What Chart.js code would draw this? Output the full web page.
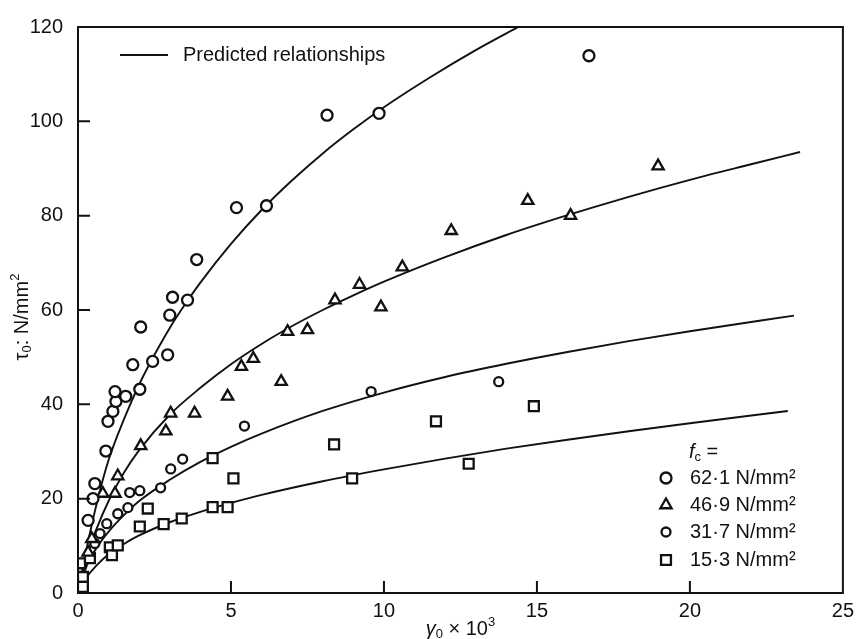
<!DOCTYPE html>
<html lang="en">
<head>
  <meta charset="utf-8" />
  <title>Shear stress vs strain, predicted relationships</title>
  <script src="https://cdn.jsdelivr.net/npm/chart.js@4.4.1/dist/chart.umd.min.js"></script>
  <style>
    html, body { margin: 0; padding: 0; background: #fff; }
    canvas { display: block; }
  </style>
</head>
<body>
  <canvas id="c" width="860" height="639"></canvas>
  <script>
    // measured points, one pair of arrays per concrete strength (x = strain x 10^3, y = N/mm2)
    const fc621X = [0.33, 0.49, 0.55, 0.91, 0.98, 1.14, 1.24, 1.21, 1.56, 2.02, 1.79, 2.44, 2.93, 2.05, 3.0, 3.09, 3.58, 3.88, 5.18, 6.16, 8.14, 9.84, 16.7];
    const fc621Y = [15.4, 20.0, 23.2, 30.1, 36.4, 38.5, 40.6, 42.7, 41.7, 43.2, 48.4, 49.1, 50.5, 56.4, 58.9, 62.7, 62.1, 70.7, 81.7, 82.1, 101.3, 101.7, 113.9];

    const fc469X = [0.33, 0.45, 0.81, 1.21, 1.30, 2.05, 2.87, 3.03, 3.81, 4.89, 5.34, 5.73, 6.64, 6.85, 7.5, 8.4, 9.2, 9.9, 10.6, 12.2, 14.7, 16.1, 18.96];
    const fc469Y = [8.6, 11.5, 21.1, 21.1, 24.8, 31.2, 34.3, 38.1, 38.1, 41.7, 48.0, 49.7, 44.8, 55.4, 55.8, 62.1, 65.4, 60.6, 69.1, 76.8, 83.2, 80.0, 90.5];

    const fc317X = [0.55, 0.72, 0.94, 1.30, 1.63, 1.69, 2.02, 2.70, 3.03, 3.42, 5.44, 9.58, 13.75];
    const fc317Y = [10.5, 12.6, 14.7, 16.8, 18.1, 21.3, 21.7, 22.3, 26.3, 28.4, 35.4, 42.7, 44.8];

    const fc153X = [0.07, 0.16, 0.16, 0.39, 1.04, 1.11, 1.30, 2.02, 2.28, 2.8, 3.39, 4.4, 4.4, 4.89, 5.08, 8.37, 8.96, 11.7, 12.77, 14.9];
    const fc153Y = [6.3, 3.4, 1.3, 7.4, 9.7, 8.0, 10.1, 14.1, 17.9, 14.6, 15.8, 18.2, 28.6, 18.2, 24.3, 31.5, 24.3, 36.4, 27.4, 39.6];

    // predicted curves
    const curve621X = [0, 0.3, 0.65, 1.0, 1.5, 2.0, 2.5, 3.0, 3.5, 4.0, 5.0, 6.0, 7.0, 8.0, 9.0, 10.0, 11.5, 13.0, 14.5];
    const curve621Y = [0, 10, 20, 28.2, 36.8, 44.2, 50.5, 56.2, 61.2, 65.8, 74, 81.2, 87.5, 93.2, 98.3, 103, 109.3, 115.1, 120.4];

    const curve469X = [0, 0.3, 0.6, 1.0, 1.5, 2, 3, 4, 5, 6, 7, 8, 9, 10, 12, 14, 16, 18, 20, 22, 23.6];
    const curve469Y = [0, 8, 13.5, 19.5, 25.5, 30.3, 37.8, 43.5, 48.5, 52.8, 56.6, 60, 63.1, 66, 71.2, 75.9, 80.1, 84.0, 87.6, 90.9, 93.5];

    const curve317X = [0, 0.3, 0.6, 1.0, 1.5, 2, 3, 4, 5, 6, 8, 10, 12, 14, 16, 18, 20, 23.4];
    const curve317Y = [0, 6, 9.5, 13, 16.5, 19.5, 24, 27.8, 31, 33.8, 38.6, 42.5, 45.8, 48.6, 51.1, 53.4, 55.5, 58.8];

    const curve153X = [0, 0.3, 0.6, 1.0, 1.5, 2, 3, 4, 5, 6, 8, 10, 12, 14, 16, 18, 20, 23.2];
    const curve153Y = [0, 3.5, 5.8, 8.2, 10.4, 12.2, 15, 17.2, 19.1, 20.8, 23.7, 26.2, 28.5, 30.6, 32.5, 34.3, 36, 38.6];

    const xTicks = [0, 5, 10, 15, 20, 25];
    const yTicks = [0, 20, 40, 60, 80, 100, 120];
    const legendLabels = ['62·1 N/mm²', '46·9 N/mm²', '31·7 N/mm²', '15·3 N/mm²'];

    const INK = '#111';
    const FONT = '"Liberation Sans", Arial, sans-serif';

    const pts = (xs, ys) => xs.map((x, i) => ({ x, y: ys[i] }));

    const markers = [
      { pointStyle: 'circle', radius: 5.5 },
      { pointStyle: 'triangle', radius: 6.5 },
      { pointStyle: 'circle', radius: 4.5 },
      { pointStyle: 'rect', radius: 7 },
    ];

    function curve(xs, ys) {
      return {
        data: pts(xs, ys),
        showLine: true,
        borderColor: INK,
        borderWidth: 1.9,
        pointRadius: 0,
        cubicInterpolationMode: 'monotone',
        order: 1,
      };
    }

    function marks(xs, ys, m) {
      return {
        data: pts(xs, ys),
        showLine: false,
        pointStyle: m.pointStyle,
        pointRadius: m.radius,
        pointBorderWidth: 2.3,
        pointBorderColor: INK,
        pointBackgroundColor: '#fff',
        order: 0,
      };
    }

    // small text runs: [text, fontSize, dy, italic]
    function drawRuns(ctx, runs, x, y) {
      let cx = x;
      for (const [t, size, dy, italic] of runs) {
        ctx.font = `${italic ? 'italic ' : ''}${size}px ${FONT}`;
        ctx.fillText(t, cx, y + dy);
        cx += ctx.measureText(t).width;
      }
      return cx - x;
    }
    function runsWidth(ctx, runs) {
      let w = 0;
      for (const [t, size, , italic] of runs) {
        ctx.font = `${italic ? 'italic ' : ''}${size}px ${FONT}`;
        w += ctx.measureText(t).width;
      }
      return w;
    }

    const decor = {
      id: 'decor',
      afterDatasetsDraw(chart) {
        const { ctx, chartArea: a, scales: { x, y } } = chart;
        ctx.save();
        ctx.strokeStyle = INK;
        ctx.fillStyle = INK;
        ctx.lineWidth = 2;
        ctx.strokeRect(a.left, a.top, a.right - a.left, a.bottom - a.top);

        // inward tick marks
        ctx.beginPath();
        for (const v of yTicks.slice(1, -1)) {
          const py = y.getPixelForValue(v);
          ctx.moveTo(a.left, py); ctx.lineTo(a.left + 12, py);
        }
        for (const v of xTicks.slice(1, -1)) {
          const px = x.getPixelForValue(v);
          ctx.moveTo(px, a.bottom); ctx.lineTo(px, a.bottom - 12);
        }
        ctx.stroke();

        ctx.textBaseline = 'middle';
        ctx.textAlign = 'left';

        // x title
        const xRuns = [['γ', 20, 0, true], ['0', 13, 5, false], [' × 10', 20, 0, false], ['3', 13, -7, false]];
        const xw = runsWidth(ctx, xRuns);
        drawRuns(ctx, xRuns, (a.left + a.right) / 2 - xw / 2, 629);

        // y title, rotated
        const yRuns = [['τ', 20, 0, false], ['0', 13, 5, false], [': N/mm', 20, 0, false], ['2', 13, -7, false]];
        const yw = runsWidth(ctx, yRuns);
        ctx.save();
        ctx.translate(22, 317);
        ctx.rotate(-Math.PI / 2);
        drawRuns(ctx, yRuns, -yw / 2, 0);
        ctx.restore();

        // top-left key
        ctx.beginPath();
        ctx.moveTo(120, 55); ctx.lineTo(168, 55);
        ctx.stroke();
        ctx.font = `20px ${FONT}`;
        ctx.fillText('Predicted relationships', 183, 55);

        // bottom-right key
        drawRuns(ctx, [['f', 20, 0, true], ['c', 13, 5, false], [' =', 20, 0, false]], 689, 452);
        const rowY = [478, 505, 532, 560];
        legendLabels.forEach((label, i) => {
          ctx.fillStyle = '#fff';
          ctx.lineWidth = 2.3;
          Chart.helpers.drawPoint(ctx, { pointStyle: markers[i].pointStyle, radius: markers[i].radius, borderWidth: 2.3, rotation: 0 }, 666, rowY[i]);
          ctx.fillStyle = INK;
          ctx.font = `20px ${FONT}`;
          ctx.fillText(label, 690, rowY[i]);
        });
        ctx.restore();
      },
    };

    new Chart(document.getElementById('c'), {
      type: 'scatter',
      data: {
        datasets: [
          marks(fc621X, fc621Y, markers[0]),
          marks(fc469X, fc469Y, markers[1]),
          marks(fc317X, fc317Y, markers[2]),
          marks(fc153X, fc153Y, markers[3]),
          curve(curve621X, curve621Y),
          curve(curve469X, curve469Y),
          curve(curve317X, curve317Y),
          curve(curve153X, curve153Y),
        ],
      },
      options: {
        responsive: false,
        animation: false,
        layout: { padding: { top: 23, right: 15, bottom: 0, left: 0 } },
        plugins: { legend: { display: false }, tooltip: { enabled: false } },
        scales: {
          x: {
            type: 'linear',
            min: 0,
            max: 25,
            afterFit: (s) => { s.height = 46; },
            afterBuildTicks: (s) => { s.ticks = xTicks.map((v) => ({ value: v })); },
            grid: { display: false, drawTicks: false },
            border: { display: false },
            ticks: { color: INK, padding: 6, font: { family: FONT, size: 20 } },
          },
          y: {
            type: 'linear',
            min: 0,
            max: 120,
            afterFit: (s) => { s.width = 78; },
            afterBuildTicks: (s) => { s.ticks = yTicks.map((v) => ({ value: v })); },
            grid: { display: false, drawTicks: false },
            border: { display: false },
            ticks: { color: INK, padding: 15, font: { family: FONT, size: 20 } },
          },
        },
      },
      plugins: [decor],
    });
  </script>
</body>
</html>
